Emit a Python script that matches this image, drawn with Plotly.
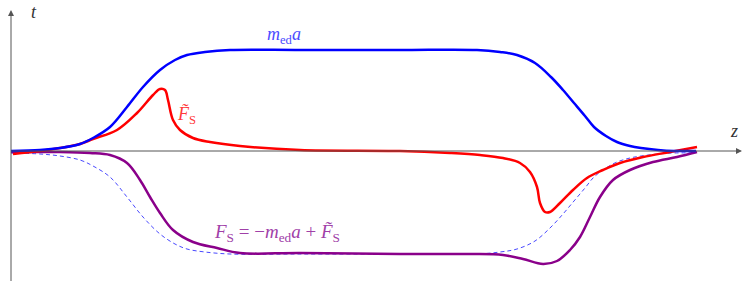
import plotly.graph_objects as go

# Positions along z (arbitrary units) and curve values t (positive up)
z_blue = [11, 40, 60, 80, 93, 110, 127, 143, 160, 175, 187, 205, 230, 300, 400, 477, 500, 517, 535, 551, 563, 574, 585, 594, 606, 617, 630, 641, 658, 674, 696]
t_blue = [0, 1, 3, 7, 13, 24, 44, 64, 81, 91, 96, 99, 101, 101, 101, 101, 99, 96, 88, 74, 61, 48, 35, 24, 15, 9, 5, 3, 1, 0, 0]

z_red = [13, 40, 60, 80, 93, 117, 137, 153, 160, 165, 168, 173, 180, 193, 210, 240, 300, 400, 450, 480, 503, 520, 530, 537, 540, 545, 550, 560, 573, 587, 603, 620, 643, 670, 697]
t_red = [-3, 0, 3, 7, 12, 21, 38, 56, 62, 61, 51, 31, 21, 13, 9, 5, 1, 0, -2, -4, -7, -12, -21, -36, -52, -61, -61, -52, -39, -27, -19, -12, -6, -1, 4]

z_purple = [11, 60, 90, 110, 127, 140, 150, 160, 173, 193, 217, 240, 300, 400, 470, 503, 523, 543, 557, 570, 580, 590, 600, 613, 630, 653, 677, 697]
t_purple = [-1, -1, -2, -4, -12, -29, -46, -62, -79, -91, -97, -102, -102, -103, -103, -104, -108, -113, -110, -99, -86, -66, -46, -29, -19, -11, -6, -1]

label_blue = "<i>m</i><sub>ed</sub><i>a</i>"
label_red = "<i>F\u0303</i><sub>S</sub>"
label_purple = "<i>F</i><sub>S</sub> = \u2212<i>m</i><sub>ed</sub><i>a</i> + <i>F\u0303</i><sub>S</sub>"

fig = go.Figure()

# dashed: -m_ed a
fig.add_trace(go.Scatter(x=z_blue, y=[-v - 2 for v in t_blue], mode="lines",
                         line=dict(color="rgba(40,40,255,0.85)", width=1, dash="4px,3px", shape="spline", smoothing=1.0),
                         hoverinfo="skip"))
fig.add_trace(go.Scatter(x=z_purple, y=t_purple, mode="lines",
                         line=dict(color="#8a008a", width=2.5, shape="spline", smoothing=1.0), hoverinfo="skip"))
fig.add_trace(go.Scatter(x=z_red, y=t_red, mode="lines",
                         line=dict(color="#ff0000", width=2.5, shape="spline", smoothing=1.0), hoverinfo="skip"))
fig.add_trace(go.Scatter(x=z_blue, y=t_blue, mode="lines",
                         line=dict(color="#0000ff", width=2.5, shape="spline", smoothing=1.0), hoverinfo="skip"))

axis_col = "#555555"
# horizontal axis with arrow
fig.add_annotation(x=742, y=0, ax=10, ay=0, xref="x", yref="y", axref="x", ayref="y",
                   showarrow=True, arrowhead=2, arrowsize=1.2, arrowwidth=1, arrowcolor=axis_col, text="")
# vertical axis with arrow
fig.add_annotation(x=11, y=141, ax=11, ay=-132, xref="x", yref="y", axref="x", ayref="y",
                   showarrow=True, arrowhead=2, arrowsize=1.2, arrowwidth=1, arrowcolor=axis_col, text="")

font_family = "Liberation Serif, serif"
fig.add_annotation(x=34, y=139, text="<i>t</i>", showarrow=False, font=dict(family=font_family, size=18, color="#333333"))
fig.add_annotation(x=734, y=20, text="<i>z</i>", showarrow=False, font=dict(family=font_family, size=18, color="#333333"))
fig.add_annotation(x=284, y=116, text=label_blue, showarrow=False, font=dict(family=font_family, size=18, color="#4a4aff"))
fig.add_annotation(x=186, y=36, text=label_red, showarrow=False, font=dict(family=font_family, size=18, color="#ff3a3a"))
fig.add_annotation(x=277, y=-82, text=label_purple, showarrow=False, font=dict(family=font_family, size=19, color="#a040a8"))

fig.update_layout(
    width=748, height=281, margin=dict(l=0, r=0, t=0, b=0),
    paper_bgcolor="white", plot_bgcolor="white", showlegend=False,
    xaxis=dict(range=[0, 748], visible=False, fixedrange=True),
    yaxis=dict(range=[-130, 151], visible=False, fixedrange=True),
)

fig.write_html("out.html", config={"displayModeBar": False, "staticPlot": True},
               post_script="document.body.style.margin='0';document.body.style.overflow='hidden';")
